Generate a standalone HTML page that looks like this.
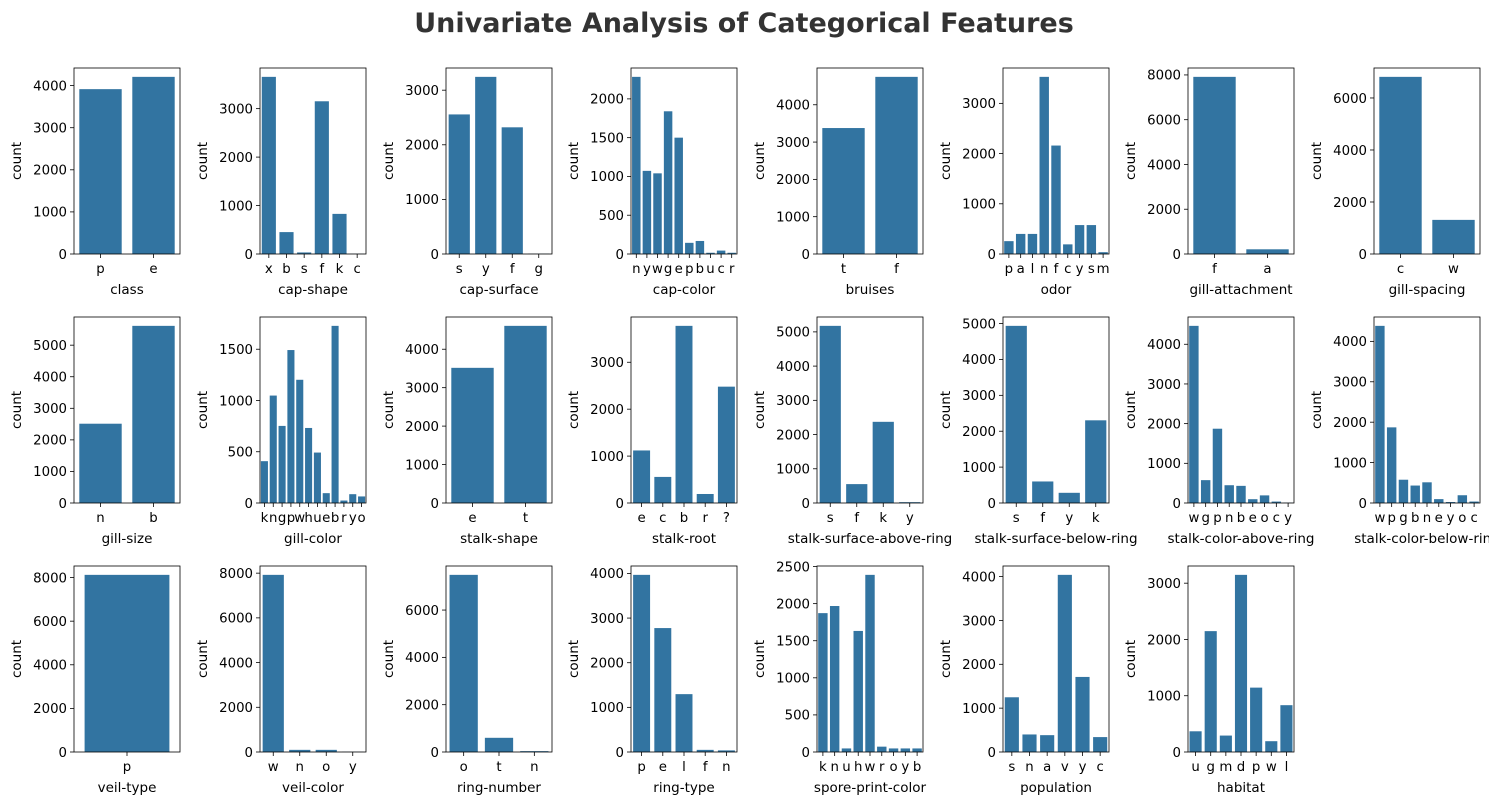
<!DOCTYPE html>
<html><head><meta charset="utf-8"><style>
body{margin:0;background:#fff;}
svg text{font-family:"DejaVu Sans","Liberation Sans",sans-serif;fill:#000;}
</style></head><body>
<svg id="fig" width="1489" height="805" viewBox="0 0 1489 805" xmlns="http://www.w3.org/2000/svg">
<rect width="1489" height="805" fill="#fff"/>
<text x="744" y="32" text-anchor="middle" font-size="27" font-weight="bold" style="fill:#333">Univariate Analysis of Categorical Features</text>
</svg>
<script>
const featureNames=["class","cap-shape","cap-surface","cap-color","bruises","odor","gill-attachment","gill-spacing","gill-size","gill-color","stalk-shape","stalk-root","stalk-surface-above-ring","stalk-surface-below-ring","stalk-color-above-ring","stalk-color-below-ring","veil-type","veil-color","ring-number","ring-type","spore-print-color","population","habitat"];
const categories=[["p","e"],["x","b","s","f","k","c"],["s","y","f","g"],["n","y","w","g","e","p","b","u","c","r"],["t","f"],["p","a","l","n","f","c","y","s","m"],["f","a"],["c","w"],["n","b"],["k","n","g","p","w","h","u","e","b","r","y","o"],["e","t"],["e","c","b","r","?"],["s","f","k","y"],["s","f","y","k"],["w","g","p","n","b","e","o","c","y"],["w","p","g","b","n","e","y","o","c"],["p"],["w","n","o","y"],["o","t","n"],["p","e","l","f","n"],["k","n","u","h","w","r","o","y","b"],["s","n","a","v","y","c"],["u","g","m","d","p","w","l"]];
const counts=[[3916,4208],[3656,452,32,3152,828,4],[2556,3244,2320,4],[2284,1072,1040,1840,1500,144,168,16,44,16],[3376,4748],[256,400,400,3528,2160,192,576,576,36],[7914,210],[6812,1312],[2512,5612],[408,1048,752,1492,1202,732,492,96,1728,24,86,64],[3516,4608],[1120,556,3776,192,2480],[5176,552,2372,24],[4936,600,284,2304],[4464,576,1872,448,432,96,192,36,8],[4384,1872,576,432,512,96,24,192,36],[8124],[7924,96,96,8],[7488,600,36],[3968,2776,1296,48,36],[1872,1968,48,1632,2388,72,48,48,48],[1248,400,384,4040,1712,340],[368,2148,292,3148,1144,192,832]];
const svg=document.getElementById('fig');const NS='http://www.w3.org/2000/svg';
function mk(t,a,p){const e=document.createElementNS(NS,t);for(const k in a)e.setAttribute(k,a[k]);(p||svg).appendChild(e);return e;}
function tickStep(ymax){const mag=Math.pow(10,Math.floor(Math.log10(ymax)));for(const m of [0.1,0.2,0.25,0.5,1,2,2.5,5,10]){const s=m*mag;if(Math.floor(ymax/s)+1<=6)return s;}return 10*mag;}
const colX=[74,260,446,631,817,1003,1188,1374],rowY=[68,317,566],W=106,H=186;
featureNames.forEach((name,i)=>{
 const L=colX[i%8],T=rowY[Math.floor(i/8)],B=T+H;
 const cats=categories[i],vals=counts[i],n=cats.length;
 const ymax=Math.max(...vals)*1.05;
 const g=mk('g',{});
 
 
 const xs=v=>L+(v+0.5)/n*W, ys=v=>B-v/ymax*H;
 vals.forEach((v,j)=>{const r=mk('rect',{x:xs(j-0.4),y:ys(v),width:0.8*W/n,height:B-ys(v),fill:'#3274a1'},g);
  
  });
 const st=tickStep(ymax);
 for(let t=0;t<=ymax;t+=st){const y=ys(t);mk('line',{x1:L-4,x2:L,y1:y,y2:y,stroke:'#000','stroke-width':0.8},g);
  const tx=mk('text',{x:L-7,y:y+4.8,'text-anchor':'end','font-size':13.3},g);tx.textContent=t;
  
  }
 cats.forEach((c,j)=>{const x=xs(j);mk('line',{x1:x,x2:x,y1:B,y2:B+4,stroke:'#000','stroke-width':0.8},g);
  const tx=mk('text',{x:x,y:B+19,'text-anchor':'middle','font-size':13.3},g);tx.textContent=c;
  
  });
 mk('rect',{x:L,y:T,width:W,height:H,fill:'none',stroke:'#000','stroke-width':0.8},g);
 const xl=mk('text',{x:L+W/2,y:B+40,'text-anchor':'middle','font-size':13.5},g);xl.textContent=name;
 
 
 const yl=mk('text',{x:0,y:0,'text-anchor':'middle','font-size':13.5,transform:`translate(${L-53},${T+H/2}) rotate(-90)`},g);yl.textContent='count';
 
 
});
</script>
</body></html>
